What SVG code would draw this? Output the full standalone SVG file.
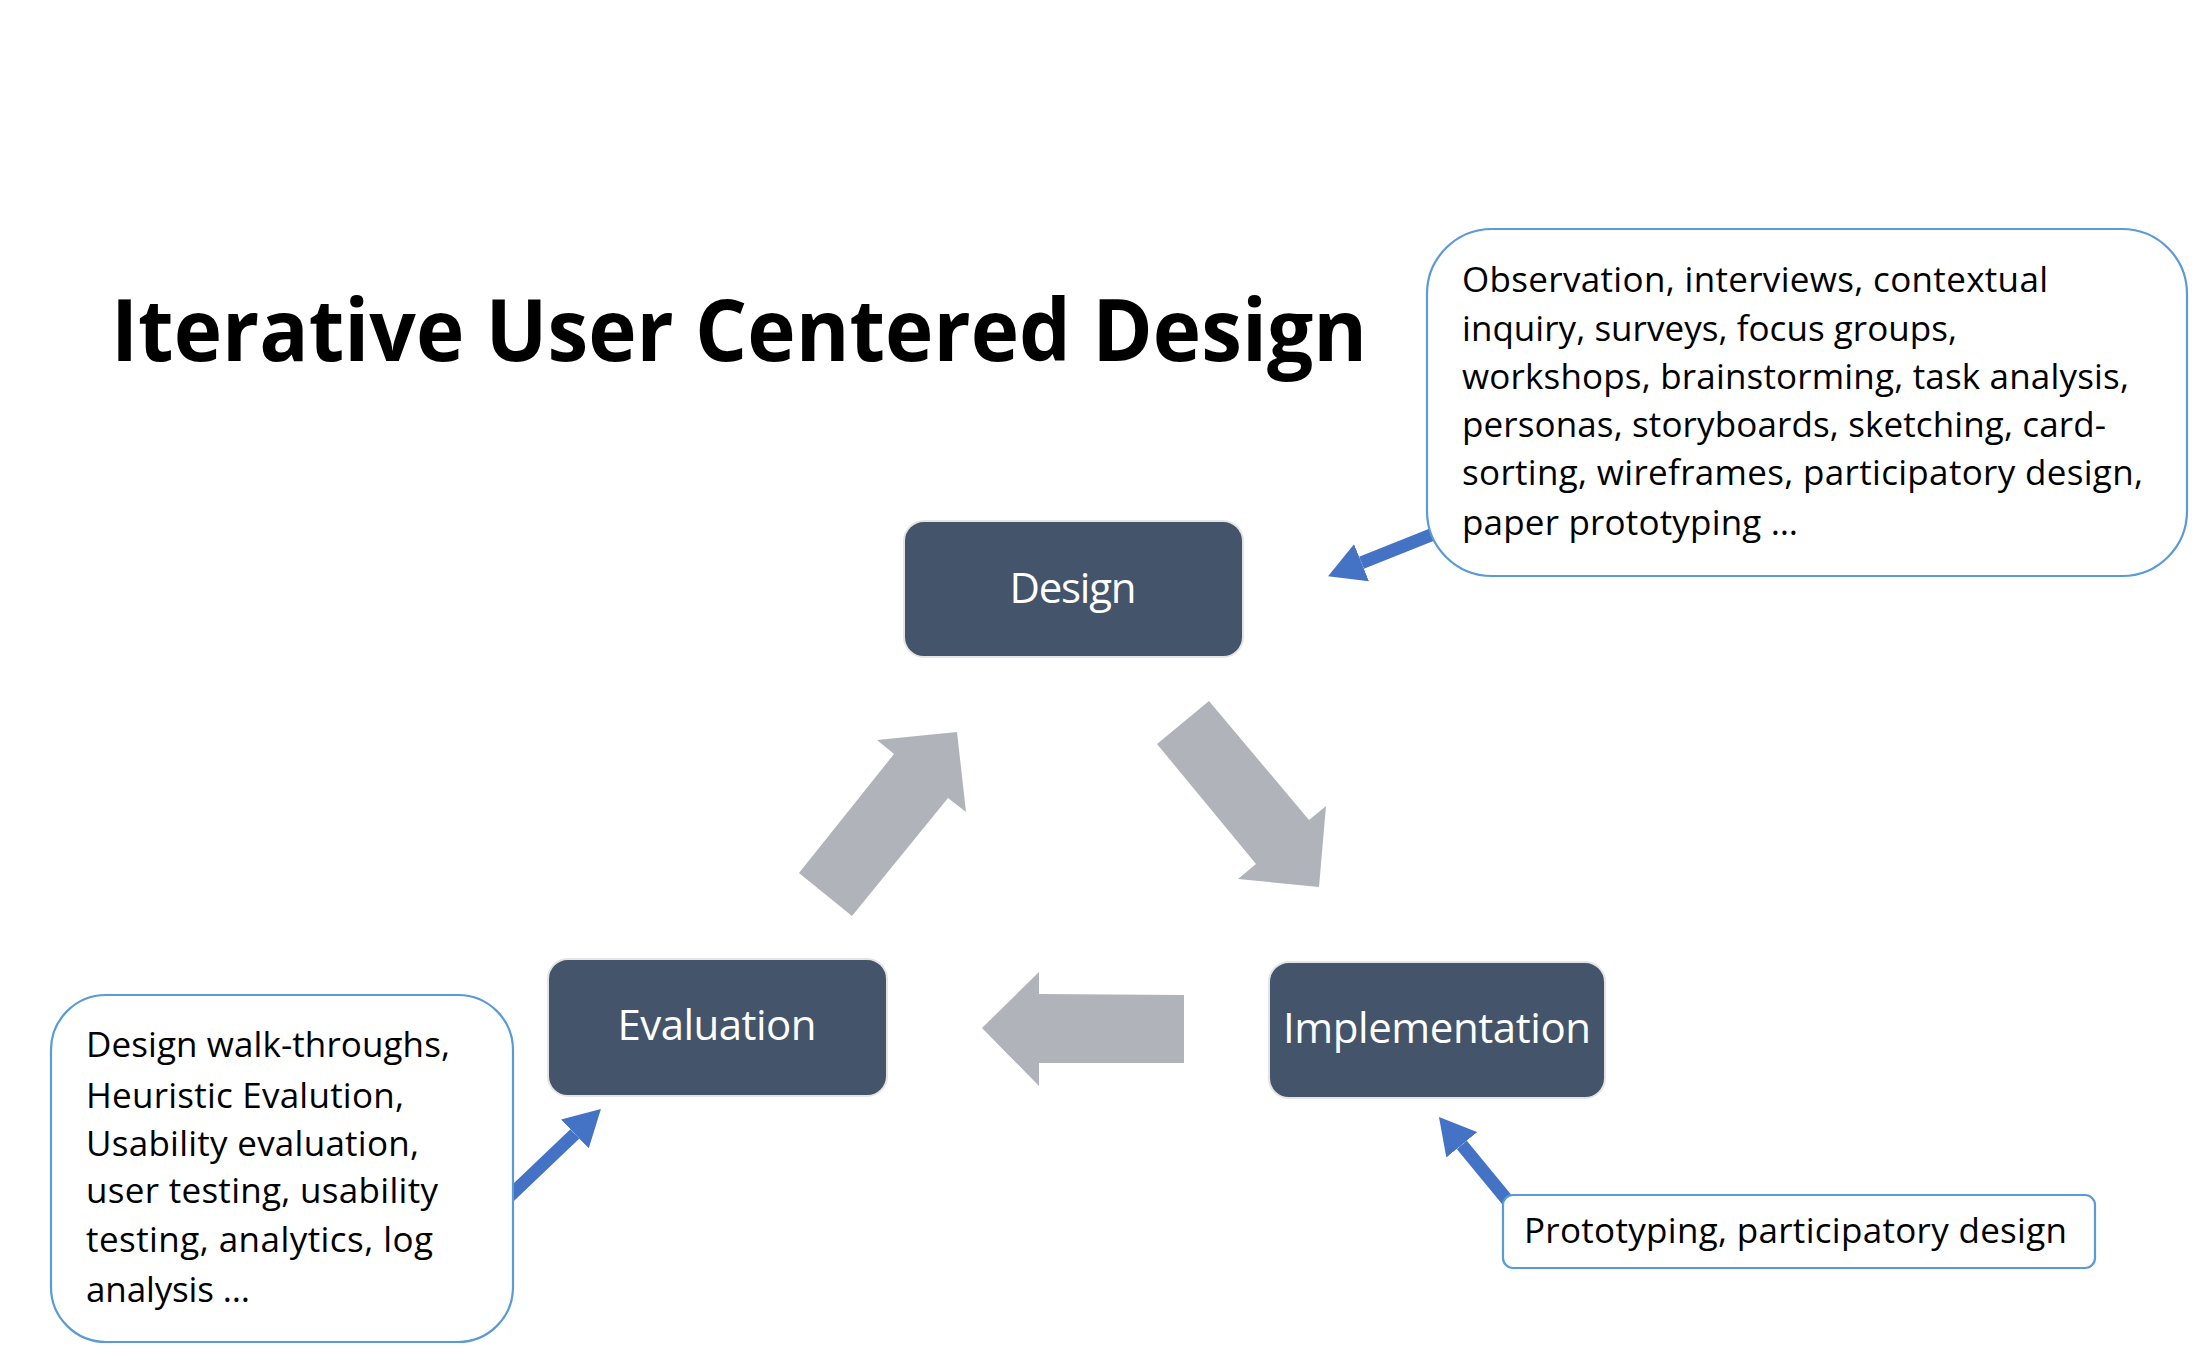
<svg xmlns="http://www.w3.org/2000/svg" width="2204" height="1362" viewBox="0 0 2204 1362">
<style>
.node{fill:#44546A;stroke:#E4E4E4;stroke-width:2}
.nlabel{font-family:"Open Sans","Noto Sans",sans-serif;font-size:42px;fill:#FFFFFF;text-anchor:middle}
.callout{fill:#FFFFFF;stroke:#5B9BD5;stroke-width:2.2}
.ctext{font-family:"Open Sans","Noto Sans",sans-serif;font-size:35px;fill:#000000}
.title{font-family:"Open Sans","Noto Sans",sans-serif;font-size:86px;font-weight:bold;fill:#000000}
.cycle{fill:#B0B3BA}
.pointer{stroke:#4472C4;stroke-width:13;fill:none;marker-end:url(#bluehead)}
</style>
<defs>
<marker id="bluehead" markerUnits="userSpaceOnUse" markerWidth="36" markerHeight="40" viewBox="0 0 36 40" refX="0" refY="20" orient="auto">
<path d="M0,0 L36,20 L0,40 z" fill="#4472C4"/>
</marker>
</defs>
<rect width="2204" height="1362" fill="#FFFFFF"/>
<text class="title" x="111" y="361" textLength="1256" lengthAdjust="spacingAndGlyphs">Iterative User Centered Design</text>
<g id="connectors">
<polygon class="cycle" points="1157,744 1209,701 1309,820 1326,806 1319,887 1238,879 1256,864"/>
<polygon class="cycle" points="1184,995 1039,994 1039,972 982,1028 1039,1086 1039,1063 1184,1063"/>
<polygon class="cycle" points="799,873 852,916 948,798 966,812 957,732 877,740 894,754"/>
<line class="pointer" x1="1436" y1="533" x2="1361.5" y2="562.8"/>
<line class="pointer" x1="506.8" y1="1198.9" x2="574.9" y2="1133.9"/>
<line class="pointer" x1="1509.3" y1="1202.7" x2="1461.8" y2="1144.8"/>
</g>
<g id="design">
<rect class="node" x="904" y="521" width="339" height="136" rx="20"/>
<text class="nlabel" x="1073" y="603" textLength="127">Design</text>
</g>
<g id="implementation">
<rect class="node" x="1269" y="962" width="336" height="136" rx="20"/>
<text class="nlabel" x="1437" y="1043" textLength="308">Implementation</text>
</g>
<g id="evaluation">
<rect class="node" x="548" y="959" width="339" height="137" rx="20"/>
<text class="nlabel" x="717" y="1040" textLength="199">Evaluation</text>
</g>
<g id="design-methods">
<rect class="callout" x="1427" y="229" width="760" height="347" rx="65"/>
<text class="ctext">
<tspan x="1462" y="292" textLength="586">Observation, interviews, contextual</tspan>
<tspan x="1462" y="341" textLength="495">inquiry, surveys, focus groups,</tspan>
<tspan x="1462" y="389" textLength="667">workshops, brainstorming, task analysis,</tspan>
<tspan x="1462" y="437" textLength="644">personas, storyboards, sketching, card-</tspan>
<tspan x="1462" y="485" textLength="681">sorting, wireframes, participatory design,</tspan>
<tspan x="1462" y="535" textLength="336">paper prototyping …</tspan>
</text>
</g>
<g id="evaluation-methods">
<rect class="callout" x="51" y="995" width="462" height="347" rx="55"/>
<text class="ctext">
<tspan x="86" y="1057" textLength="364">Design walk-throughs,</tspan>
<tspan x="86" y="1108" textLength="318">Heuristic Evalution,</tspan>
<tspan x="86" y="1156" textLength="333">Usability evaluation,</tspan>
<tspan x="86" y="1203" textLength="352">user testing, usability</tspan>
<tspan x="86" y="1252" textLength="347">testing, analytics, log</tspan>
<tspan x="86" y="1302" textLength="164">analysis …</tspan>
</text>
</g>
<g id="implementation-methods">
<rect class="callout" x="1503" y="1195" width="592" height="73" rx="10"/>
<text class="ctext" x="1524" y="1243" textLength="543">Prototyping, participatory design</text>
</g>
</svg>
